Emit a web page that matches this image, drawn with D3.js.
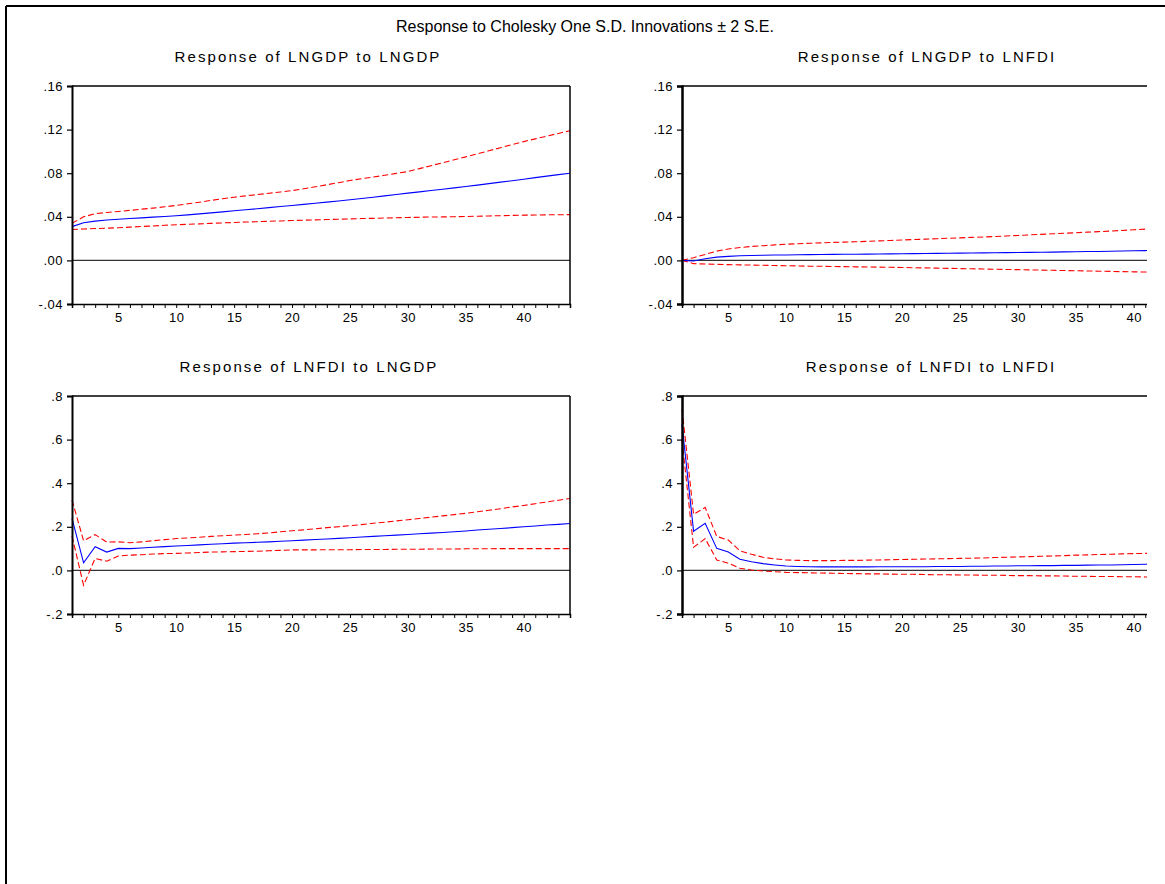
<!DOCTYPE html>
<html>
<head>
<meta charset="utf-8">
<script src="https://cdn.jsdelivr.net/npm/d3@7/dist/d3.min.js"></script>
<style>
  html, body { margin: 0; padding: 0; background: #fff; }
  svg { display: block; }
  text { font-family: "Liberation Sans", Arial, sans-serif; fill: #000; }
</style>
</head>
<body>
<svg id="chart" width="1165" height="884"></svg>
<script>
// ---------------- data ----------------
const periods = d3.range(1, 45); // 1..44

const mainTitle = "Response to Cholesky One S.D. Innovations \u00B1 2 S.E.";
const panelTitles = [
  "Response of LNGDP to LNGDP",
  "Response of LNGDP to LNFDI",
  "Response of LNFDI to LNGDP",
  "Response of LNFDI to LNFDI"
];

const gdpYTicks = [-0.04, 0.00, 0.04, 0.08, 0.12, 0.16];
const gdpYLabels = ["-.04", ".00", ".04", ".08", ".12", ".16"];
const fdiYTicks = [-0.2, 0.0, 0.2, 0.4, 0.6, 0.8];
const fdiYLabels = ["-.2", ".0", ".2", ".4", ".6", ".8"];
const xLabelTicks = [5, 10, 15, 20, 25, 30, 35, 40];

// Response of LNGDP to LNGDP
const gdpGdpResp = [0.031,0.0345,0.036,0.037,0.0378,0.0384,0.039,0.0397,0.0403,0.041,0.0418,0.0427,0.0436,0.0445,0.0455,0.0465,0.0474,0.0484,0.0494,0.0504,0.0514,0.0524,0.0535,0.0545,0.0556,0.0568,0.058,0.0592,0.0604,0.0617,0.0629,0.0641,0.0653,0.0665,0.0678,0.0691,0.0704,0.0718,0.0731,0.0745,0.0759,0.0773,0.0787,0.080];
const gdpGdpUpper = [0.034,0.040,0.0428,0.044,0.0449,0.0459,0.047,0.048,0.0492,0.0504,0.0519,0.0534,0.055,0.0565,0.058,0.0592,0.0604,0.0616,0.0628,0.064,0.0657,0.0675,0.0694,0.0713,0.0733,0.0749,0.0765,0.0781,0.0798,0.0815,0.0842,0.0869,0.0896,0.0923,0.095,0.0978,0.1006,0.1034,0.1062,0.109,0.1115,0.114,0.1165,0.119];
const gdpGdpLower = [0.0284,0.0288,0.0292,0.0296,0.030,0.0305,0.0311,0.0316,0.0322,0.0327,0.0331,0.0335,0.034,0.0344,0.0348,0.0352,0.0355,0.0359,0.0362,0.0366,0.0369,0.0372,0.0375,0.0378,0.0381,0.0384,0.0386,0.0389,0.0391,0.0394,0.0396,0.0398,0.0399,0.0401,0.0403,0.0405,0.0408,0.041,0.0413,0.0415,0.0416,0.0418,0.0419,0.042];

// Response of LNGDP to LNFDI
const gdpFdiResp = [0,-0.0005,0.0015,0.003,0.0037,0.0042,0.0045,0.0047,0.0049,0.005,0.0052,0.0053,0.0054,0.0055,0.0056,0.0057,0.0058,0.0059,0.006,0.0061,0.0062,0.0063,0.0064,0.0066,0.0067,0.0068,0.0069,0.007,0.0071,0.0073,0.0074,0.0075,0.0076,0.0078,0.0079,0.0081,0.0082,0.0084,0.0086,0.0088,0.009,0.0092,0.0094,0.0096];
const gdpFdiUpper = [0,0.0025,0.0055,0.0085,0.0105,0.0118,0.0128,0.0135,0.0142,0.0148,0.0153,0.0157,0.0161,0.0165,0.0168,0.0171,0.0175,0.0179,0.0183,0.0187,0.0191,0.0195,0.0199,0.0203,0.0207,0.0211,0.0215,0.0219,0.0224,0.0229,0.0234,0.0239,0.0244,0.0249,0.0254,0.0259,0.0264,0.0269,0.0275,0.0281,0.0287,0.0293,0.0299,0.0305];
const gdpFdiLower = [0,-0.003,-0.0033,-0.0036,-0.0039,-0.0041,-0.0043,-0.0045,-0.0047,-0.0049,-0.0051,-0.0053,-0.0054,-0.0056,-0.0057,-0.0059,-0.006,-0.0062,-0.0063,-0.0065,-0.0067,-0.0069,-0.0071,-0.0073,-0.0075,-0.0077,-0.0079,-0.0081,-0.0083,-0.0085,-0.0087,-0.0089,-0.0091,-0.0093,-0.0095,-0.0097,-0.0099,-0.0101,-0.0103,-0.0105,-0.0107,-0.0109,-0.0111,-0.0113];

// Response of LNFDI to LNGDP
const fdiGdpResp = [0.239,0.035,0.109,0.084,0.101,0.100,0.103,0.106,0.109,0.112,0.114,0.117,0.12,0.122,0.125,0.127,0.129,0.131,0.134,0.136,0.139,0.142,0.144,0.147,0.150,0.153,0.156,0.159,0.162,0.165,0.168,0.171,0.174,0.177,0.181,0.185,0.189,0.192,0.196,0.200,0.204,0.208,0.211,0.215];
const fdiGdpUpper = [0.323,0.136,0.164,0.130,0.131,0.127,0.131,0.136,0.141,0.146,0.149,0.152,0.156,0.159,0.162,0.165,0.168,0.172,0.177,0.182,0.186,0.191,0.196,0.200,0.205,0.210,0.216,0.221,0.227,0.232,0.238,0.244,0.250,0.256,0.262,0.269,0.276,0.283,0.291,0.298,0.306,0.314,0.322,0.330];
const fdiGdpLower = [0.158,-0.068,0.055,0.042,0.066,0.070,0.072,0.075,0.077,0.078,0.080,0.082,0.084,0.085,0.086,0.087,0.088,0.090,0.092,0.094,0.094,0.094,0.095,0.095,0.095,0.096,0.096,0.096,0.097,0.097,0.097,0.098,0.098,0.098,0.099,0.099,0.099,0.100,0.100,0.100,0.100,0.100,0.100,0.100];

// Response of LNFDI to LNFDI
const fdiFdiResp = [0.67,0.18,0.216,0.101,0.084,0.051,0.040,0.031,0.025,0.020,0.018,0.017,0.016,0.016,0.016,0.016,0.016,0.017,0.017,0.017,0.017,0.017,0.018,0.018,0.018,0.019,0.019,0.020,0.020,0.021,0.021,0.022,0.022,0.023,0.023,0.024,0.025,0.025,0.026,0.027,0.028,0.028,0.029,0.030];
const fdiFdiUpper = [0.74,0.257,0.289,0.156,0.139,0.090,0.074,0.060,0.053,0.048,0.046,0.045,0.045,0.045,0.046,0.046,0.047,0.048,0.049,0.050,0.051,0.052,0.053,0.054,0.055,0.056,0.057,0.059,0.060,0.062,0.063,0.065,0.066,0.068,0.070,0.071,0.073,0.074,0.076,0.077,0.078,0.080,0.081,0.082];
const fdiFdiLower = [0.60,0.106,0.146,0.048,0.033,0.010,0.002,-0.003,-0.006,-0.009,-0.010,-0.011,-0.012,-0.013,-0.014,-0.015,-0.016,-0.016,-0.017,-0.018,-0.018,-0.019,-0.020,-0.020,-0.021,-0.021,-0.022,-0.022,-0.023,-0.024,-0.024,-0.025,-0.025,-0.026,-0.027,-0.027,-0.028,-0.028,-0.029,-0.029,-0.030,-0.030,-0.031,-0.031];

// ---------------- layout ----------------
const svg = d3.select("#chart");

// outer frame (cropped screenshot: only top and left edges visible)
svg.append("line").attr("x1", 6).attr("x2", 1165).attr("y1", 6).attr("y2", 6)
  .attr("stroke", "#000").attr("stroke-width", 2);
svg.append("line").attr("x1", 6).attr("x2", 6).attr("y1", 6).attr("y2", 884)
  .attr("stroke", "#000").attr("stroke-width", 2);

svg.append("text").attr("x", 585).attr("y", 32).attr("text-anchor", "middle")
  .style("font-size", "16px").text(mainTitle);

const panels = [
  { title: panelTitles[0], left: 72,  top: 86,  titleX: 308, yTicks: gdpYTicks, yLabels: gdpYLabels, resp: gdpGdpResp, up: gdpGdpUpper, lo: gdpGdpLower, clipRight: null },
  { title: panelTitles[1], left: 682, top: 86,  titleX: 927, yTicks: gdpYTicks, yLabels: gdpYLabels, resp: gdpFdiResp, up: gdpFdiUpper, lo: gdpFdiLower, clipRight: 1147 },
  { title: panelTitles[2], left: 72,  top: 396, titleX: 309, yTicks: fdiYTicks, yLabels: fdiYLabels, resp: fdiGdpResp, up: fdiGdpUpper, lo: fdiGdpLower, clipRight: null },
  { title: panelTitles[3], left: 682, top: 396, titleX: 931, yTicks: fdiYTicks, yLabels: fdiYLabels, resp: fdiFdiResp, up: fdiFdiUpper, lo: fdiFdiLower, clipRight: 1147 }
];
const pw = 498, ph = 218;

panels.forEach((p, i) => {
  const x = d3.scaleLinear().domain([1, 44]).range([p.left, p.left + pw]);
  const y = d3.scaleLinear().domain([p.yTicks[0], p.yTicks[p.yTicks.length - 1]]).range([p.top + ph, p.top]);

  const clipW = (p.clipRight ? p.clipRight : p.left + pw + 2) - (p.left - 60);
  svg.append("clipPath").attr("id", "clip" + i)
    .append("rect").attr("x", p.left - 60).attr("y", p.top - 40).attr("width", clipW).attr("height", ph + 80);
  const g = svg.append("g").attr("clip-path", `url(#clip${i})`);

  // panel title
  svg.append("text").attr("x", p.titleX).attr("y", p.top - 24).attr("text-anchor", "middle")
    .style("font-size", "15px").style("letter-spacing", "2.1px").text(p.title);

  // zero line
  g.append("line").attr("x1", x(1)).attr("x2", x(44)).attr("y1", y(0)).attr("y2", y(0))
    .attr("stroke", "#333").attr("stroke-width", 1.2);

  const line = d3.line().x((d, k) => x(periods[k])).y(d => y(d));
  g.append("path").datum(p.up).attr("d", line).attr("fill", "none")
    .attr("stroke", "#ff0000").attr("stroke-width", 1.1).attr("stroke-dasharray", "6,3");
  g.append("path").datum(p.lo).attr("d", line).attr("fill", "none")
    .attr("stroke", "#ff0000").attr("stroke-width", 1.1).attr("stroke-dasharray", "6,3");
  g.append("path").datum(p.resp).attr("d", line).attr("fill", "none")
    .attr("stroke", "#0000ff").attr("stroke-width", 1.1);

  // frame: top & right
  g.append("line").attr("x1", x(1)).attr("x2", x(44)).attr("y1", y.range()[1]).attr("y2", y.range()[1])
    .attr("stroke", "#000").attr("stroke-width", 1.5);
  g.append("line").attr("x1", x(44)).attr("x2", x(44)).attr("y1", p.top).attr("y2", p.top + ph)
    .attr("stroke", "#000").attr("stroke-width", 1.5);

  // y axis
  const yAxis = d3.axisLeft(y).tickValues(p.yTicks).tickSize(5).tickPadding(4)
    .tickFormat((d, k) => p.yLabels[k]);
  const ya = g.append("g").attr("transform", `translate(${p.left},0)`).call(yAxis);
  ya.select(".domain").attr("stroke-width", p.clipRight ? 2.5 : 2);
  ya.selectAll(".tick line").attr("stroke-width", 1.2);
  ya.selectAll("text").style("font-size", "13px").style("letter-spacing", "0.5px")
    .style("font-family", "'Liberation Sans', Arial, sans-serif");

  // x axis
  const xAxis = d3.axisBottom(x).tickValues(periods).tickSize(4).tickPadding(5)
    .tickFormat(d => xLabelTicks.includes(d) ? String(d) : "");
  const xa = g.append("g").attr("transform", `translate(0,${p.top + ph})`).call(xAxis);
  xa.select(".domain").attr("stroke-width", 1.5);
  xa.selectAll("text").style("font-size", "13px").style("letter-spacing", "0.5px")
    .style("font-family", "'Liberation Sans', Arial, sans-serif");
});
</script>
</body>
</html>
